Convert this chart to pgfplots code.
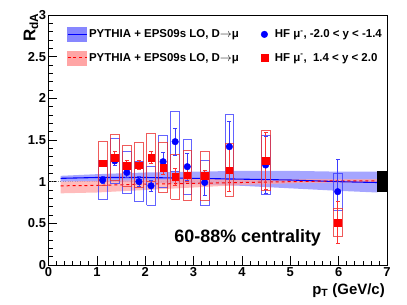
\documentclass[border=0pt]{standalone}
\usepackage{pgfplots}
\pgfplotsset{compat=1.18}
\usepackage{fontspec}
\setmainfont{Liberation Sans}
\definecolor{bandblue}{RGB}{135,135,255}
\definecolor{bandred}{RGB}{255,165,165}
\definecolor{boxblue}{RGB}{60,60,255}
\definecolor{boxred}{RGB}{235,50,50}
\definecolor{errblue}{RGB}{60,60,255}
\definecolor{errred}{RGB}{255,50,50}
\begin{document}
\begin{tikzpicture}
\useasboundingbox (-48.5bp,-40bp) rectangle (358.5bp,265bp);
\begin{axis}[
  at={(0,0)}, anchor=south west,
  scale only axis, width=338.5bp, height=250bp,
  xmin=0, xmax=7, ymin=0, ymax=3,
  xtick={0,1,...,7}, ytick={0,0.5,...,3},
  minor x tick num=5, minor y tick num=4,
  tick align=inside, xtick pos=bottom, ytick pos=left,
  major tick length=9bp, minor tick length=4.5bp,
  axis line style={line width=0.8pt},
  every tick/.style={black, line width=0.6pt},
  /pgf/number format/assume math mode=true,
  ticklabel style={font=\bfseries\fontsize{13}{13}\selectfont},
  yticklabel style={xshift=1bp},
  xticklabel style={yshift=1bp},
  xlabel={\textbf{p\textsubscript{T} (GeV/c)}},
  xlabel style={font=\fontsize{15}{15}\selectfont, at={(axis description cs:0.994,-0.072)}, anchor=north east, inner sep=0pt},
  ylabel={\textbf{R\textsubscript{dA}}},
  ylabel style={font=\fontsize{17}{17}\selectfont, at={(axis description cs:-0.03,1.008)}, anchor=south east, inner sep=0pt},
  legend style={draw=none, fill=none, at={(axis description cs:0.045,0.96)}, anchor=north west,
    font=\bfseries\fontsize{11.5}{13}\selectfont, row sep=9bp,
    /tikz/every even column/.append style={column sep=20bp}},
  legend columns=2, legend cell align=left,
]
% legend entries
\addlegendimage{legend image code/.code={\fill[bandblue] (0bp,-7bp) rectangle (19bp,7bp); \draw[blue,line width=1.2pt] (0bp,0bp)--(19bp,0bp);}}
\addlegendentry{PYTHIA + EPS09s LO, D$\rightarrow$μ}
\addlegendimage{legend image code/.code={\fill[blue] (4bp,0bp) circle (3.3bp);}}
\addlegendentry{\hspace{5bp}HF μ\textsuperscript{-}, -2.0 < y < -1.4}
\addlegendimage{legend image code/.code={\fill[bandred] (0bp,-7bp) rectangle (19bp,7bp); \draw[red,dashed,line width=1pt] (0bp,0bp)--(19bp,0bp);}}
\addlegendentry{PYTHIA + EPS09s LO, D$\rightarrow$μ}
\addlegendimage{legend image code/.code={\fill[red] (0.7bp,-3.3bp) rectangle (7.3bp,3.3bp);}}
\addlegendentry{\hspace{5bp}HF μ\textsuperscript{-}, ~1.4 < y < 2.0}

% reference line
\addplot[gray, dotted, forget plot] coordinates {(0,1) (7,1)};

% blue theory band
\addplot[fill=bandblue, fill opacity=0.75, draw=none, forget plot] coordinates {
 (0.25,1.00) (1,1.00) (2,0.99) (3,0.97) (4,0.95) (5,0.92) (6,0.89) (6.8,0.87)
 (6.8,1.12) (6,1.12) (5,1.13) (4,1.13) (3,1.12) (2,1.11) (1,1.09) (0.25,1.07)} --cycle;
% red theory band
\addplot[fill=bandred, fill opacity=0.75, draw=none, forget plot] coordinates {
 (0.25,0.86) (1,0.87) (2,0.90) (3,0.93) (4,0.96) (5,0.98) (6,0.99) (6.8,0.99)
 (6.8,1.03) (6,1.03) (5,1.03) (4,1.03) (3,1.03) (2,1.02) (1,1.01) (0.25,1.00)} --cycle;
\addplot[blue, line width=1.1pt, forget plot] coordinates {
 (0.25,1.04) (1,1.05) (2,1.05) (3,1.04) (4,1.03) (5,1.02) (6,1.00) (6.8,0.99)};
\addplot[red, dashed, line width=1pt, forget plot] coordinates {
 (0.25,0.95) (1,0.955) (2,0.97) (3,0.98) (4,0.99) (5,1.00) (6,1.01) (6.8,1.01)};

% normalisation box
\addplot[fill=black, draw=black, forget plot] coordinates {(6.8,0.88) (7,0.88) (7,1.12) (6.8,1.12)} --cycle;

% blue systematic boxes
\addplot[boxblue, draw opacity=0.8, line width=0.8pt, unbounded coords=jump, forget plot] coordinates {
 (1.03,0.79) (1.21,0.79) (1.21,1.25) (1.03,1.25) (1.03,0.79) (1.12,nan)
 (1.28,0.98) (1.46,0.98) (1.46,1.52) (1.28,1.52) (1.28,0.98) (1.37,nan)
 (1.53,0.86) (1.71,0.86) (1.71,1.36) (1.53,1.36) (1.53,0.86) (1.62,nan)
 (1.78,0.76) (1.96,0.76) (1.96,1.24) (1.78,1.24) (1.78,0.76) (1.87,nan)
 (2.03,0.72) (2.21,0.72) (2.21,1.18) (2.03,1.18) (2.03,0.72) (2.12,nan)
 (2.28,0.93) (2.46,0.93) (2.46,1.55) (2.28,1.55) (2.28,0.93) (2.37,nan)
 (2.53,1.12) (2.71,1.12) (2.71,1.84) (2.53,1.84) (2.53,1.12) (2.62,nan)
 (2.78,0.85) (2.96,0.85) (2.96,1.51) (2.78,1.51) (2.78,0.85) (2.87,nan)
 (3.14,0.72) (3.32,0.72) (3.32,1.26) (3.14,1.26) (3.14,0.72) (3.23,nan)
 (3.65,1.03) (3.83,1.03) (3.83,1.81) (3.65,1.81) (3.65,1.03) (3.74,nan)
 (4.40,0.85) (4.58,0.85) (4.58,1.55) (4.40,1.55) (4.40,0.85) (4.49,nan)
 (5.89,0.66) (6.07,0.66) (6.07,1.10) (5.89,1.10) (5.89,0.66)};
% red systematic boxes
\addplot[boxred, draw opacity=0.8, line width=0.8pt, unbounded coords=jump, forget plot] coordinates {
 (1.03,0.96) (1.21,0.96) (1.21,1.48) (1.03,1.48) (1.03,0.96) (1.12,nan)
 (1.28,1.01) (1.46,1.01) (1.46,1.57) (1.28,1.57) (1.28,1.01) (1.37,nan)
 (1.53,0.94) (1.71,0.94) (1.71,1.44) (1.53,1.44) (1.53,0.94) (1.62,nan)
 (1.78,0.93) (1.96,0.93) (1.96,1.47) (1.78,1.47) (1.78,0.93) (1.87,nan)
 (2.03,1.00) (2.21,1.00) (2.21,1.58) (2.03,1.58) (2.03,1.00) (2.12,nan)
 (2.28,0.87) (2.46,0.87) (2.46,1.47) (2.28,1.47) (2.28,0.87) (2.37,nan)
 (2.53,0.79) (2.71,0.79) (2.71,1.33) (2.53,1.33) (2.53,0.79) (2.62,nan)
 (2.78,0.78) (2.96,0.78) (2.96,1.38) (2.78,1.38) (2.78,0.78) (2.87,nan)
 (3.14,0.78) (3.32,0.78) (3.32,1.36) (3.14,1.36) (3.14,0.78) (3.23,nan)
 (3.65,0.82) (3.83,0.82) (3.83,1.46) (3.65,1.46) (3.65,0.82) (3.74,nan)
 (4.40,0.89) (4.58,0.89) (4.58,1.61) (4.40,1.61) (4.40,0.89) (4.49,nan)
 (5.89,0.345) (6.07,0.345) (6.07,0.675) (5.89,0.675) (5.89,0.345)};

% statistical error bars (lower, upper ends): blue
\addplot[draw=errblue, line width=0.7pt, unbounded coords=jump, forget plot,
  mark=-, mark size=2bp, mark options={draw=errblue, line width=0.7pt}] coordinates {
 (1.12,0.98) (1.12,1.06) (1.12,nan)
 (1.37,1.20) (1.37,1.30) (1.37,nan)
 (1.62,1.05) (1.62,1.17) (1.62,nan)
 (1.87,0.94) (1.87,1.06) (1.87,nan)
 (2.12,0.88) (2.12,1.02) (2.12,nan)
 (2.37,1.13) (2.37,1.35) (2.37,nan)
 (2.62,1.32) (2.62,1.64) (2.62,nan)
 (2.87,1.02) (2.87,1.34) (2.87,nan)
 (3.23,0.84) (3.23,1.14) (3.23,nan)
 (3.74,1.12) (3.74,1.72) (3.74,nan)
 (4.49,0.86) (4.49,1.54) (4.49,nan)
 (5.98,0.49) (5.98,1.27)};
% statistical error bars: red
\addplot[draw=errred, line width=0.7pt, unbounded coords=jump, forget plot,
  mark=-, mark size=2bp, mark options={draw=errred, line width=0.7pt}] coordinates {
 (1.12,1.18) (1.12,1.26) (1.12,nan)
 (1.37,1.22) (1.37,1.36) (1.37,nan)
 (1.62,1.13) (1.62,1.25) (1.62,nan)
 (1.87,1.15) (1.87,1.25) (1.87,nan)
 (2.12,1.22) (2.12,1.36) (2.12,nan)
 (2.37,1.09) (2.37,1.25) (2.37,nan)
 (2.62,0.96) (2.62,1.16) (2.62,nan)
 (2.87,1.00) (2.87,1.16) (2.87,nan)
 (3.23,1.00) (3.23,1.14) (3.23,nan)
 (3.74,0.88) (3.74,1.40) (3.74,nan)
 (4.49,0.91) (4.49,1.59) (4.49,nan)
 (5.98,0.26) (5.98,0.76)};

% data points: blue (backward rapidity)
\addplot[only marks, mark=*, mark options={fill=blue, draw=blue}, mark size=3.3bp, forget plot]
 coordinates {
 (1.12,1.02) (1.37,1.25) (1.62,1.11) (1.87,1.00) (2.12,0.95) (2.37,1.24)
 (2.62,1.48) (2.87,1.18) (3.23,0.99) (3.74,1.42) (4.49,1.20) (5.98,0.88)};
% red (forward rapidity)
\addplot[only marks, mark=square*, mark options={fill=red, draw=red}, mark size=3.3bp, forget plot]
 coordinates {
 (1.12,1.22) (1.37,1.29) (1.62,1.19) (1.87,1.20) (2.12,1.29) (2.37,1.17)
 (2.62,1.06) (2.87,1.08) (3.23,1.07) (3.74,1.14) (4.49,1.25) (5.98,0.51)};

\node[font=\bfseries\fontsize{18}{18}\selectfont, inner sep=0pt] at (axis cs:4.12,0.32) {60-88\% centrality};
\end{axis}
\end{tikzpicture}
\end{document}
